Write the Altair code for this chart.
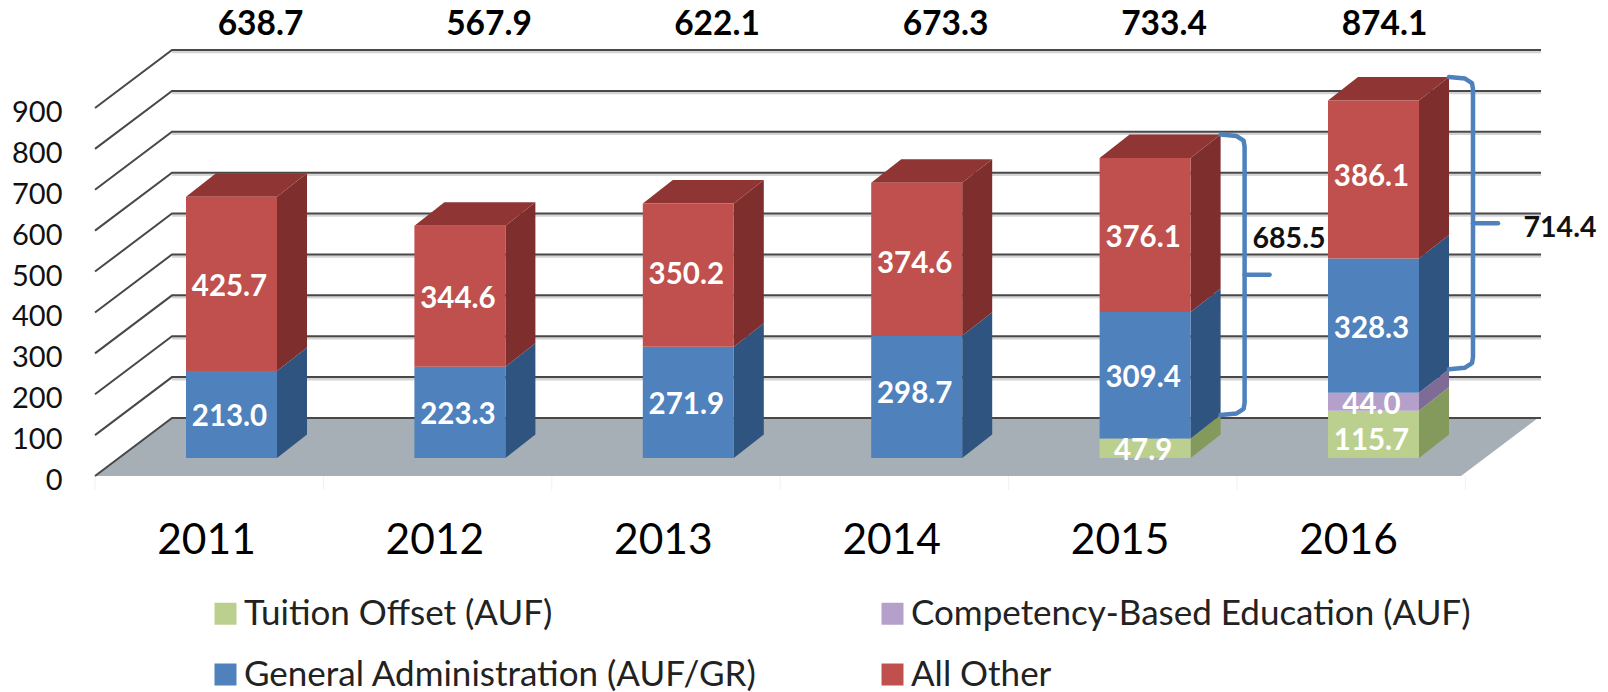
import altair as alt
import pandas as pd

years = [2011, 2012, 2013, 2014, 2015, 2016]
tuition = [0, 0, 0, 0, 47.9, 115.7]
competency = [0, 0, 0, 0, 0, 44.0]
general = [213.0, 223.3, 271.9, 298.7, 309.4, 328.3]
other = [425.7, 344.6, 350.2, 374.6, 376.1, 386.1]
totals = [638.7, 567.9, 622.1, 673.3, 733.4, 874.1]
brace_totals = {4: 685.5, 5: 714.4}
ticks = [0, 100, 200, 300, 400, 500, 600, 700, 800, 900]

stack_names = ["Tuition Offset (AUF)", "Competency-Based Education (AUF)",
               "General Administration (AUF/GR)", "All Other"]
legend_order = ["Tuition Offset (AUF)", "General Administration (AUF/GR)",
                "Competency-Based Education (AUF)", "All Other"]
series_values = [tuition, competency, general, other]
front = ["#BBD08E", "#B5A0CB", "#4F81BD", "#C0504D"]
side = ["#84995C", "#7F6C96", "#2F5480", "#7E2F2D"]
top_face = "#8F3533"

FONT = "Lato"
PXX = 228.4          # px per category slot
PXY = 0.4089         # px per value unit
W, H = 1446, 426
XMAX = W / PXX
YMAX = H / PXY
PLANE_DX = 77 / PXX
PLANE_DY = 58 / PXY
BAR_L = 91 / PXX
BAR_W = 91 / PXX
BAR_BASE = 18 / PXY
BAR_DX = 30 / PXX
BAR_DY = 23.5 / PXY
LABEL_NUDGE_PX = {"115.7": 4, "386.1": -6, "298.7": -6, "350.2": -3, "374.6": 2}

xs = alt.Scale(domain=[0, XMAX], nice=False, zero=False)
ys = alt.Scale(domain=[0, YMAX], nice=False, zero=False)
tick_x = [(206 - 95) / PXX + i for i in range(6)]
x_axis = alt.Axis(values=tick_x, labelExpr="format(2011 + floor(datum.value), 'd')",
                  labelFont=FONT, labelFontSize=42.5, labelColor="black", labelPadding=64,
                  ticks=False, domain=False, grid=False, labelOverlap=False,
                  labelBaseline="middle", title=None)
y_axis = alt.Axis(values=ticks, labelFont=FONT, labelFontSize=29, labelColor="#111111",
                  labelPadding=33, labelOffset=4.5, ticks=False, domain=False, grid=False,
                  labelOverlap=False, title=None)
X = lambda f="x": alt.X(f"{f}:Q", scale=xs, axis=x_axis)
Y = lambda f="y": alt.Y(f"{f}:Q", scale=ys, axis=y_axis, stack=None)

# floor
floor_df = pd.DataFrame([
    {"y": 0, "x": 0, "x2": XMAX - PLANE_DX - 3 / PXX},
    {"y": PLANE_DY, "x": PLANE_DX, "x2": XMAX - 3 / PXX},
])
floor = alt.Chart(floor_df).mark_area(orient="horizontal", color="#A6AEB6").encode(
    y=Y(), x=X(), x2="x2:Q")

# faint vertical separators under the floor
sep_df = pd.DataFrame({"x": list(range(0, 7)), "y": [-35] * 7, "y2": [0] * 7})
seps = alt.Chart(sep_df).mark_rule(color="#F1F1F1", strokeWidth=1).encode(
    x=X(), y=Y(), y2="y2:Q")

# gridlines
rows = []
for t in ticks:
    for k, (xv, yv) in enumerate([(0, t), (PLANE_DX, t + PLANE_DY), (XMAX, t + PLANE_DY)]):
        rows.append({"t": t, "k": k, "x": xv, "y": yv, "ys": yv - 5})
grid_df = pd.DataFrame(rows)
grid_shadow = alt.Chart(grid_df[(grid_df.k > 0) & (grid_df.t > 0)]).mark_line(color="#D4D4D4", strokeWidth=2.5).encode(
    x=X(), y=Y("ys"), detail="t:N", order="k:Q")
grid = alt.Chart(grid_df).mark_line(color="#484848", strokeWidth=2).encode(
    x=X(), y=Y(), detail="t:N", order="k:Q")

# bars
fr, sd, tp, labels = [], [], [], []
for i, yr in enumerate(years):
    L = i + BAR_L
    R = L + BAR_W
    v0 = 0
    for j, name in enumerate(stack_names):
        val = series_values[j][i]
        if val == 0:
            continue
        v1 = v0 + val
        fr.append({"series": name, "x": L, "x2": R, "y": v0 + BAR_BASE, "y2": v1 + BAR_BASE})
        sid = f"{yr}-{j}"
        sd.append({"id": sid, "c": j, "x": R, "y": v0 + BAR_BASE, "y2": v1 + BAR_BASE})
        sd.append({"id": sid, "c": j, "x": R + BAR_DX, "y": v0 + BAR_BASE + BAR_DY,
                   "y2": v1 + BAR_BASE + BAR_DY})
        txt = f"{val:.1f}"
        labels.append({"x": (L + R) / 2 - 2 / PXX,
                       "y": (v0 + v1) / 2 + BAR_BASE - LABEL_NUDGE_PX.get(txt, 0) / PXY,
                       "t": txt})
        v0 = v1
    tp.append({"id": yr, "y": v0 + BAR_BASE, "x": L, "x2": R})
    tp.append({"id": yr, "y": v0 + BAR_BASE + BAR_DY, "x": L + BAR_DX, "x2": R + BAR_DX})

sd_df = pd.DataFrame(sd)
side_layers = [
    alt.Chart(sd_df[sd_df.id == sid]).mark_area(orient="vertical", color=side[int(sid.split("-")[1])]).encode(
        x=X(), y=Y(), y2="y2:Q")
    for sid in sd_df.id.unique()
]
top_layer = alt.Chart(pd.DataFrame(tp)).mark_area(orient="horizontal", color=top_face).encode(
    y=Y(), x=X(), x2="x2:Q", detail="id:N")
legend_fronts = [front[stack_names.index(n)] for n in legend_order]
front_layer = alt.Chart(pd.DataFrame(fr)).mark_rect().encode(
    x=X(), x2="x2:Q", y=Y(), y2="y2:Q",
    color=alt.Color("series:N",
                    scale=alt.Scale(domain=legend_order, range=legend_fronts),
                    sort=legend_order,
                    legend=alt.Legend(title=None, orient="none", legendX=113, legendY=546,
                                      columns=2, symbolType="square", symbolSize=484,
                                      symbolStrokeWidth=0, labelFont=FONT, labelFontSize=35,
                                      labelColor="#222222", labelLimit=800, labelOffset=1,
                                      columnPadding=118, rowPadding=25)))
value_text = alt.Chart(pd.DataFrame(labels)).mark_text(
    font=FONT, fontWeight="bold", fontSize=29.5, color="white", baseline="middle", dy=3).encode(
    x=X(), y=Y(), text="t:N")

# totals
total_px = [260.5, 489, 717, 945.5, 1164, 1384.5]
tot_df = pd.DataFrame({"x": [(p - 95) / PXX for p in total_px],
                       "y": [(476 - 25) / PXY] * 6,
                       "t": [f"{v:.1f}" for v in totals]})
total_text = alt.Chart(tot_df).mark_text(font=FONT, fontWeight="bold", fontSize=33.5, color="black",
                                         baseline="middle").encode(x=X(), y=Y(), text="t:N")

# braces
br = []
nub = []
for i, span in brace_totals.items():
    R = i + BAR_L + BAR_W + BAR_DX
    top = totals[i] + BAR_BASE + BAR_DY
    bot = top - span
    mid = (top + bot) / 2
    xm = R + 24 / PXX
    pts = [(R, top), (xm - 8 / PXX, top - 1.5 / PXY), (xm - 1 / PXX, top - 6 / PXY),
           (xm, top - 12 / PXY), (xm, bot + 12 / PXY), (xm - 1 / PXX, bot + 6 / PXY),
           (xm - 8 / PXX, bot + 1.5 / PXY), (R, bot)]
    for k, (a, b) in enumerate(pts):
        br.append({"id": i, "k": k, "x": a, "y": b})
    for k, (a, b) in enumerate([(xm, mid), (xm + 6 / PXX, mid), (xm + 25 / PXX, mid)]):
        nub.append({"id": i, "k": k, "x": a, "y": b})
brace = alt.Chart(pd.DataFrame(br)).mark_line(color="#4F81BD", strokeWidth=4.5, strokeCap="round", strokeJoin="round").encode(
    x=X(), y=Y(), detail="id:N", order="k:Q")
brace_nub = alt.Chart(pd.DataFrame(nub)).mark_line(color="#4F81BD", strokeWidth=4.5, strokeCap="round").encode(
    x=X(), y=Y(), detail="id:N", order="k:Q")

side_df = pd.DataFrame({"x": [(1289 - 95) / PXX, (1560 - 95) / PXX],
                        "y": [(476 - 239) / PXY, (476 - 228) / PXY],
                        "t": ["685.5", "714.4"]})
brace_text = alt.Chart(side_df).mark_text(font=FONT, fontWeight="bold", fontSize=28.5, color="#111111",
                                          baseline="middle").encode(x=X(), y=Y(), text="t:N")

chart = alt.layer(seps, floor, grid_shadow, grid, *side_layers, top_layer, front_layer,
                  value_text, total_text, brace, brace_nub, brace_text).properties(
    width=W, height=H,
    padding={"left": 87, "top": 42, "right": 59, "bottom": 216},
    autosize=alt.AutoSizeParams(type="none"),
    background="white",
).configure_view(stroke=None)

chart.save("out.html", embed_options={"renderer": "svg", "actions": False})
